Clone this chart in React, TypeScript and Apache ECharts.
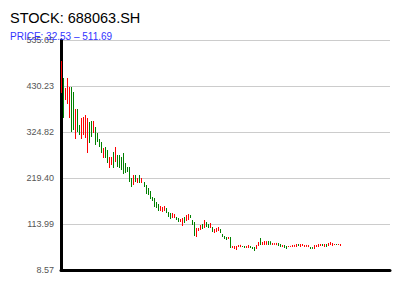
import React, { useEffect, useRef } from "react";
import * as echarts from "echarts";

const TITLE = "STOCK: 688063.SH";
const SUBTITLE = "PRICE: 32.53 – 511.69";

// y-axis tick labels
const yTicks = [8.57, 113.99, 219.4, 324.82, 430.23, 535.65];

// number of slots on the category axis (candles fill the first part)
const SLOT_COUNT = 164;

// candles: [open, close, low, high]
const candles: number[][] = [
  [416.48, 485.23, 414.2, 487.5],
  [448.57, 359.19, 357.0, 448.57],
  [398.15, 425.65, 398.15, 425.65],
  [388.98, 448.57, 388.98, 448.57],
  [356.9, 427.94, 356.9, 427.94],
  [427.94, 324.81, 324.81, 427.94],
  [416.48, 329.4, 329.4, 416.48],
  [308.77, 377.52, 308.77, 377.52],
  [377.52, 324.81, 324.81, 377.52],
  [340.86, 317.94, 317.94, 340.86],
  [308.77, 356.9, 308.77, 356.9],
  [317.94, 359.19, 317.94, 359.19],
  [311.06, 363.77, 311.06, 363.77],
  [276.69, 356.9, 276.69, 356.9],
  [347.73, 299.6, 299.6, 347.73],
  [350.02, 313.36, 313.36, 350.02],
  [322.52, 350.02, 322.52, 350.02],
  [336.27, 295.02, 295.02, 336.27],
  [322.52, 301.9, 301.9, 322.52],
  [308.77, 290.44, 290.44, 308.77],
  [301.9, 276.69, 276.69, 301.9],
  [265.23, 288.15, 265.23, 288.15],
  [290.44, 265.23, 265.23, 290.44],
  [283.56, 253.77, 253.77, 283.56],
  [242.31, 267.52, 242.31, 267.52],
  [249.19, 267.52, 249.19, 267.52],
  [278.98, 242.31, 242.31, 278.98],
  [256.06, 290.44, 256.06, 290.44],
  [272.1, 244.6, 244.6, 272.1],
  [272.1, 242.31, 242.31, 272.1],
  [267.52, 237.73, 237.73, 267.52],
  [276.69, 228.56, 228.56, 276.69],
  [253.77, 230.85, 230.85, 253.77],
  [244.6, 233.15, 233.15, 244.6],
  [244.6, 210.23, 210.23, 244.6],
  [219.4, 198.77, 198.77, 219.4],
  [203.35, 226.27, 203.35, 226.27],
  [226.27, 210.23, 210.23, 226.27],
  [207.93, 219.4, 207.93, 219.4],
  [226.27, 207.93, 207.93, 226.27],
  [207.93, 219.4, 207.93, 219.4],
  [210.23, 198.77, 198.77, 210.23],
  [203.35, 182.73, 182.73, 203.35],
  [196.48, 180.44, 180.44, 196.48],
  [189.6, 171.27, 171.27, 189.6],
  [175.85, 166.69, 166.69, 175.85],
  [173.56, 152.94, 152.94, 173.56],
  [164.39, 150.64, 150.64, 164.39],
  [159.81, 143.77, 143.77, 159.81],
  [143.77, 155.23, 143.77, 155.23],
  [141.48, 152.94, 141.48, 152.94],
  [143.77, 155.23, 143.77, 155.23],
  [150.64, 139.18, 139.18, 150.64],
  [141.48, 130.02, 130.02, 141.48],
  [139.18, 125.44, 125.44, 139.18],
  [127.73, 139.18, 127.73, 139.18],
  [127.73, 136.89, 127.73, 136.89],
  [130.02, 123.14, 123.14, 130.02],
  [127.73, 118.56, 118.56, 127.73],
  [118.56, 125.44, 118.56, 125.44],
  [109.39, 127.73, 109.39, 127.73],
  [130.02, 116.27, 116.27, 130.02],
  [120.85, 134.6, 120.85, 134.6],
  [123.14, 136.89, 123.14, 136.89],
  [134.6, 127.73, 127.73, 134.6],
  [123.14, 111.69, 111.69, 123.14],
  [118.56, 86.48, 86.48, 118.56],
  [84.19, 104.81, 84.19, 104.81],
  [97.94, 104.81, 97.94, 104.81],
  [100.23, 111.69, 100.23, 111.69],
  [113.98, 102.52, 102.52, 113.98],
  [104.81, 123.14, 104.81, 123.14],
  [118.56, 107.1, 107.1, 118.56],
  [113.98, 104.81, 104.81, 113.98],
  [104.81, 116.27, 104.81, 116.27],
  [107.1, 95.64, 95.64, 107.1],
  [93.35, 102.52, 93.35, 102.52],
  [95.64, 104.81, 95.64, 104.81],
  [97.94, 107.1, 97.94, 107.1],
  [102.52, 93.35, 93.35, 102.52],
  [91.06, 84.19, 84.19, 91.06],
  [86.48, 79.6, 79.6, 86.48],
  [84.19, 77.31, 77.31, 84.19],
  [79.6, 84.19, 79.6, 84.19],
  [84.19, 58.98, 58.98, 84.19],
  [58.98, 63.56, 58.98, 63.56],
  [56.68, 63.56, 56.68, 63.56],
  [54.39, 63.56, 54.39, 63.56],
  [61.27, 65.85, 61.27, 65.85],
  [61.0, 66.2, 61.0, 66.2],
  [63.56, 61.27, 61.27, 63.56],
  [63.56, 58.98, 58.98, 63.56],
  [58.98, 63.56, 58.98, 63.56],
  [58.98, 65.85, 58.98, 65.85],
  [63.56, 58.98, 58.98, 63.56],
  [61.27, 56.68, 56.68, 61.27],
  [61.27, 52.1, 52.1, 61.27],
  [56.68, 65.85, 56.68, 65.85],
  [63.56, 72.73, 63.56, 72.73],
  [81.89, 65.85, 65.85, 81.89],
  [65.85, 72.73, 65.85, 72.73],
  [65.85, 75.02, 65.85, 75.02],
  [66.1, 74.6, 66.1, 74.6],
  [75.02, 65.85, 65.85, 75.02],
  [74.5, 66.3, 66.3, 74.5],
  [65.85, 70.43, 65.85, 70.43],
  [66.2, 70.1, 66.2, 70.1],
  [65.6, 70.6, 65.6, 70.6],
  [70.43, 63.56, 63.56, 70.43],
  [68.14, 61.27, 61.27, 68.14],
  [61.27, 65.85, 61.27, 65.85],
  [65.85, 58.98, 58.98, 65.85],
  [63.56, 56.68, 56.68, 63.56],
  [61.27, 63.56, 61.27, 63.56],
  [61.5, 63.8, 61.5, 63.8],
  [61.27, 65.85, 61.27, 65.85],
  [61.6, 66.1, 61.6, 66.1],
  [61.27, 68.14, 61.27, 68.14],
  [68.14, 63.56, 63.56, 68.14],
  [61.27, 68.14, 61.27, 68.14],
  [63.56, 68.14, 63.56, 68.14],
  [61.27, 65.85, 61.27, 65.85],
  [61.5, 66.0, 61.5, 66.0],
  [61.1, 65.7, 61.1, 65.7],
  [61.27, 56.68, 56.68, 61.27],
  [61.0, 57.0, 57.0, 61.0],
  [56.68, 65.85, 56.68, 65.85],
  [61.27, 65.85, 61.27, 65.85],
  [61.27, 68.14, 61.27, 68.14],
  [63.56, 68.14, 63.56, 68.14],
  [68.14, 63.56, 63.56, 68.14],
  [61.27, 68.14, 61.27, 68.14],
  [68.14, 61.27, 61.27, 68.14],
  [63.56, 70.43, 63.56, 70.43],
  [65.85, 72.73, 65.85, 72.73],
  [63.56, 70.43, 63.56, 70.43],
  [65.85, 68.14, 65.85, 68.14],
  [68.14, 65.85, 65.85, 68.14],
  [65.85, 68.14, 65.85, 68.14],
  [63.56, 68.14, 63.56, 68.14],
];

const categories = Array.from({ length: SLOT_COUNT }, (_, i) => String(i + 1));

export default function App() {
  const ref = useRef<HTMLDivElement>(null);
  useEffect(() => {
    if (!ref.current) return;
    const chart = echarts.init(ref.current, undefined, { renderer: "svg" });
    chart.setOption({
      animation: false,
      backgroundColor: "#ffffff",
      title: {
        text: TITLE,
        subtext: SUBTITLE,
        left: 5,
        top: 5,
        itemGap: 6,
        textStyle: {
          fontSize: 14.5,
          fontWeight: "normal",
          color: "#000000",
          fontFamily: "Liberation Sans, Arial, sans-serif",
        },
        subtextStyle: {
          fontSize: 10,
          color: "#3333ff",
          fontFamily: "Liberation Sans, Arial, sans-serif",
        },
      },
      grid: { left: 61, right: 10, top: 40, bottom: 30 },
      xAxis: {
        type: "category",
        data: categories,
        boundaryGap: true,
        axisLine: { show: true, lineStyle: { color: "#000000", width: 3 } },
        axisTick: { show: false },
        axisLabel: { show: false },
        splitLine: { show: false },
      },
      yAxis: {
        type: "value",
        min: yTicks[0],
        max: yTicks[yTicks.length - 1],
        axisLine: { show: true, lineStyle: { color: "#000000", width: 3 } },
        axisTick: { show: false, customValues: yTicks },
        axisLabel: {
          customValues: yTicks,
          formatter: (v: number) => v.toFixed(2),
          fontSize: 9,
          color: "#555555",
          margin: 7,
          fontFamily: "Liberation Sans, Arial, sans-serif",
        },
        splitLine: { show: true, lineStyle: { color: "#cccccc", width: 1 } },
      },
      series: [
        {
          type: "candlestick",
          data: candles,
          itemStyle: {
            color: "#ff0000",
            color0: "#008000",
            borderColor: "#ff0000",
            borderColor0: "#008000",
            borderWidth: 1,
          },
        },
      ],
    });
    return () => chart.dispose();
  }, []);
  return <div ref={ref} style={{ width: 400, height: 300, margin: -8 }} />;
}
